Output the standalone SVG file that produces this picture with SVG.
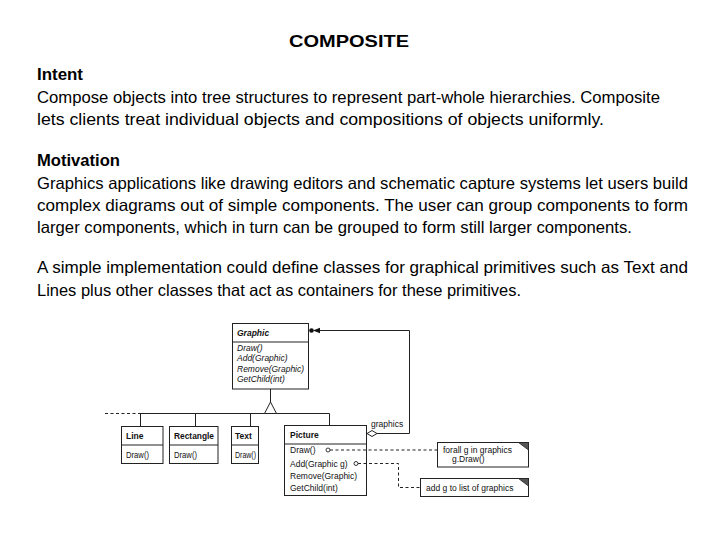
<svg xmlns="http://www.w3.org/2000/svg" width="720" height="540" viewBox="0 0 720 540">
<style>
.t{font-family:"Liberation Sans",Arial,sans-serif;font-size:16.5px;fill:#000}
.b{font-weight:bold}
.d{font-family:"Liberation Sans",Arial,sans-serif;font-size:8.5px;fill:#111}
.i{font-style:italic}
.box{fill:#fff;stroke:#222;stroke-width:1}
.ln{fill:none;stroke:#222;stroke-width:1}
.dash{fill:none;stroke:#222;stroke-width:1;stroke-dasharray:3,2.5}
</style>
<rect width="720" height="540" fill="#fff"/>
<g id="text">
<text class="t b" x="349" y="47" text-anchor="middle" font-size="20" textLength="120" lengthAdjust="spacingAndGlyphs">COMPOSITE</text>
<text class="t b" x="37" y="80" textLength="46" lengthAdjust="spacingAndGlyphs">Intent</text>
<text class="t" x="37" y="103" textLength="623" lengthAdjust="spacingAndGlyphs">Compose objects into tree structures to represent part-whole hierarchies. Composite</text>
<text class="t" x="37" y="125" textLength="567" lengthAdjust="spacingAndGlyphs">lets clients treat individual objects and compositions of objects uniformly.</text>
<text class="t b" x="37" y="166" textLength="83" lengthAdjust="spacingAndGlyphs">Motivation</text>
<text class="t" x="37" y="189" textLength="651" lengthAdjust="spacingAndGlyphs">Graphics applications like drawing editors and schematic capture systems let users build</text>
<text class="t" x="37" y="211" textLength="651" lengthAdjust="spacingAndGlyphs">complex diagrams out of simple components. The user can group components to form</text>
<text class="t" x="37" y="233" textLength="595" lengthAdjust="spacingAndGlyphs">larger components, which in turn can be grouped to form still larger components.</text>
<text class="t" x="37" y="273" textLength="651" lengthAdjust="spacingAndGlyphs">A simple implementation could define classes for graphical primitives such as Text and</text>
<text class="t" x="37" y="296" textLength="484" lengthAdjust="spacingAndGlyphs">Lines plus other classes that act as containers for these primitives.</text>
</g>
<g id="graphic">
<rect class="box" x="232.5" y="323.5" width="76" height="65.5"/>
<line class="ln" x1="232.5" y1="342" x2="308.5" y2="342"/>
<text class="d b i" x="237" y="336" font-size="9">Graphic</text>
<text class="d i" x="237" y="351" font-size="8.8">Draw()</text>
<text class="d i" x="237" y="361" font-size="8.8">Add(Graphic)</text>
<text class="d i" x="237" y="371.5" font-size="8.8">Remove(Graphic)</text>
<text class="d i" x="237" y="382" font-size="8.8">GetChild(int)</text>
</g>
<g id="line">
<rect class="box" x="121.5" y="426.5" width="41.5" height="37"/>
<line class="ln" x1="121.5" y1="445" x2="163" y2="445"/>
<text class="d b" x="126" y="438.5">Line</text>
<text class="d" x="126" y="458" textLength="23" lengthAdjust="spacingAndGlyphs">Draw()</text>
</g>
<g id="rectangle">
<rect class="box" x="169.5" y="426.5" width="48.5" height="37"/>
<line class="ln" x1="169.5" y1="445" x2="218" y2="445"/>
<text class="d b" x="174" y="438.5" textLength="40" lengthAdjust="spacingAndGlyphs">Rectangle</text>
<text class="d" x="174" y="458" textLength="23" lengthAdjust="spacingAndGlyphs">Draw()</text>
</g>
<g id="text-class">
<rect class="box" x="231.5" y="426.5" width="27" height="37"/>
<line class="ln" x1="231.5" y1="445" x2="258.5" y2="445"/>
<text class="d b" x="235" y="438.5">Text</text>
<text class="d" x="235" y="458" textLength="21" lengthAdjust="spacingAndGlyphs">Draw()</text>
</g>
<g id="picture">
<rect class="box" x="284.5" y="425.5" width="82" height="70"/>
<line class="ln" x1="284.5" y1="444" x2="366.5" y2="444"/>
<text class="d b" x="290" y="437.5">Picture</text>
<text class="d" x="290" y="453">Draw()</text>
<text class="d" x="290" y="466.5">Add(Graphic g)</text>
<text class="d" x="290" y="479">Remove(Graphic)</text>
<text class="d" x="290" y="490.5">GetChild(int)</text>
</g>
<g id="note-draw">
<rect class="box" x="437.5" y="442.5" width="91" height="24.5"/>
<polygon points="518.5,442.5 528.5,442.5 528.5,450" fill="#555" stroke="#222" stroke-width="0.8"/>
<text class="d" x="443" y="453">forall g in graphics</text>
<text class="d" x="452" y="462">g.Draw()</text>
</g>
<g id="note-add">
<rect class="box" x="420.5" y="478.5" width="108" height="18"/>
<polygon points="518.5,478.5 528.5,478.5 528.5,486" fill="#555" stroke="#222" stroke-width="0.8"/>
<text class="d" x="426" y="490.5">add g to list of graphics</text>
</g>
<g id="connectors">
<line class="dash" x1="105" y1="413.5" x2="140" y2="413.5"/>
<line class="ln" x1="140" y1="413.5" x2="329.5" y2="413.5"/>
<line class="ln" x1="140.5" y1="413.5" x2="140.5" y2="426"/>
<line class="ln" x1="195.5" y1="413.5" x2="195.5" y2="426"/>
<line class="ln" x1="250.5" y1="413.5" x2="250.5" y2="426"/>
<line class="ln" x1="329.5" y1="413.5" x2="329.5" y2="425"/>
<line class="ln" x1="270.5" y1="389" x2="270.5" y2="402"/>
<polygon points="270.5,402 264.5,413.5 276.5,413.5" fill="#fff" stroke="#222" stroke-width="1"/>
<polyline class="ln" points="377,433.5 409.5,433.5 409.5,330.5 319,330.5"/>
<polygon points="367,433.5 372,430.5 377,433.5 372,436.5" fill="#fff" stroke="#222" stroke-width="1"/>
<circle cx="311.5" cy="330.5" r="2.3" fill="#111"/>
<polygon points="313,330.5 320,327.8 320,333.2" fill="#111"/>
<text class="d" x="371" y="427">graphics</text>
<circle cx="328" cy="450" r="2" fill="#fff" stroke="#222" stroke-width="0.9"/>
<line class="dash" x1="330" y1="450" x2="437" y2="450"/>
<circle cx="356" cy="463.5" r="2" fill="#fff" stroke="#222" stroke-width="0.9"/>
<polyline class="dash" points="358,463.5 398.5,463.5 398.5,487.5 420,487.5"/>
</g>
</svg>
